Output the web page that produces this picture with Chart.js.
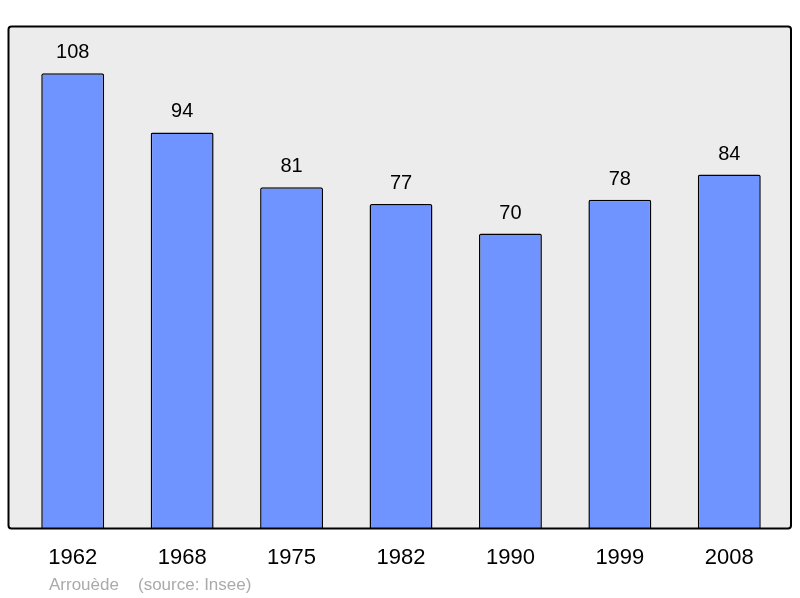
<!DOCTYPE html>
<html>
<head>
<meta charset="utf-8">
<script src="https://cdn.jsdelivr.net/npm/chart.js@4.4.0/dist/chart.umd.min.js"></script>
<style>
html,body{margin:0;padding:0;background:#fff;}
#wrap{width:800px;height:598px;position:relative;}
</style>
</head>
<body>
<div id="wrap"><canvas id="c" width="800" height="598"></canvas></div>
<script>
const years = ["1962","1968","1975","1982","1990","1999","2008"];
const population = [108, 94, 81, 77, 70, 78, 84];
const sourceLabels = ["Arrouède", "(source: Insee)"];

const boxPlugin = {
  id: 'box',
  beforeDraw(chart) {
    const {ctx, chartArea: a} = chart;
    ctx.save();
    const x0 = a.left - 9.5, x1 = a.right + 7, y0 = a.top - 0.5, y1 = a.bottom;
    ctx.beginPath();
    ctx.roundRect(x0, y0, x1 - x0, y1 - y0, 3);
    ctx.fillStyle = '#ececec';
    ctx.fill();
    ctx.restore();
  },
  afterDatasetsDraw(chart) {
    const {ctx, chartArea: a} = chart;
    ctx.save();
    const x0 = a.left - 9.5, x1 = a.right + 7, y0 = a.top - 0.5, y1 = a.bottom;
    ctx.beginPath();
    ctx.roundRect(x0, y0, x1 - x0, y1 - y0, 3);
    ctx.lineWidth = 2;
    ctx.strokeStyle = '#000';
    ctx.stroke();
    // value labels
    const meta = chart.getDatasetMeta(0);
    ctx.fillStyle = '#000';
    ctx.font = '20px "Liberation Sans", Arial, sans-serif';
    ctx.textAlign = 'center';
    ctx.textBaseline = 'alphabetic';
    meta.data.forEach((bar, i) => {
      ctx.fillText(String(population[i]), bar.x, bar.y - 15);
    });
    // source
    ctx.fillStyle = '#aaaaaa';
    ctx.font = '17px "Liberation Sans", Arial, sans-serif';
    ctx.textAlign = 'left';
    ctx.fillText(sourceLabels[0], 49, 590);
    ctx.fillText(sourceLabels[1], 138, 590);
    ctx.restore();
  }
};

new Chart(document.getElementById('c'), {
  type: 'bar',
  data: {
    labels: years,
    datasets: [{
      data: population,
      backgroundColor: '#7094ff',
      borderColor: '#000',
      borderWidth: 1.5,
      borderRadius: 2,
      borderSkipped: 'bottom',
      categoryPercentage: 1,
      barPercentage: 0.575
    }]
  },
  options: {
    responsive: false,
    animation: false,
    devicePixelRatio: 1,
    layout: {padding: {left: 18, right: 16, top: 27, bottom: 19}},
    plugins: {legend: {display: false}, tooltip: {enabled: false}},
    scales: {
      y: {display: false, min: 0, max: 119},
      x: {
        grid: {display: false},
        border: {display: false},
        ticks: {color: '#000', font: {family: '"Liberation Sans", Arial, sans-serif', size: 22}, padding: 8, maxRotation: 0}
      }
    }
  },
  plugins: [boxPlugin]
});
</script>
</body>
</html>
